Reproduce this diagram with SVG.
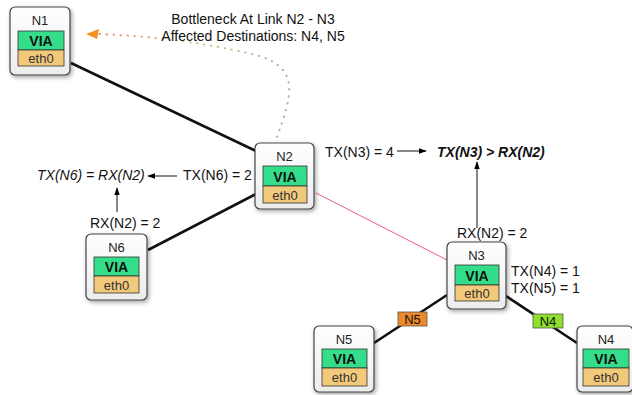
<svg xmlns="http://www.w3.org/2000/svg" width="632" height="395" viewBox="0 0 632 395">
<defs>
<linearGradient id="boxg" x1="0" y1="0" x2="0" y2="1">
<stop offset="0" stop-color="#ffffff"/>
<stop offset="1" stop-color="#ececec"/>
</linearGradient>
<linearGradient id="dotg" x1="0" y1="0" x2="1" y2="0">
<stop offset="0" stop-color="#f08a80"/>
<stop offset="0.45" stop-color="#d0c888"/>
<stop offset="1" stop-color="#a8b4b0"/>
</linearGradient>
<filter id="sh" x="-20%" y="-20%" width="150%" height="150%">
<feDropShadow dx="1.5" dy="2" stdDeviation="2" flood-color="#000" flood-opacity="0.35"/>
</filter>
<marker id="ah" viewBox="0 0 10 10" refX="9" refY="5" markerWidth="8" markerHeight="8" markerUnits="userSpaceOnUse" orient="auto">
<path d="M0,1.5 L10,5 L0,8.5 Z" fill="#000"/>
</marker>
</defs>
<style>
.box{fill:url(#boxg);stroke:#444;stroke-width:1.2;filter:url(#sh)}
.via{fill:#33dd8a;stroke:#333;stroke-width:0.8}
.eth{fill:#f2c97a;stroke:#333;stroke-width:0.8}
.t{font-family:"Liberation Sans",Arial,sans-serif;fill:#111}
.nm{font-size:13px;text-anchor:middle;fill:#222}
.vt{font-size:14px;font-weight:bold;text-anchor:middle}
.et{font-size:13px;text-anchor:middle;fill:#333}
.lb{font-size:14px}
.it{font-style:italic}
.link{stroke:#111;stroke-width:2.6;fill:none}
.ar{stroke:#111;stroke-width:1;fill:none;marker-end:url(#ah)}
</style>
<g id="connectors">
<path class="link" d="M71,63 L256,151"/>
<path class="link" d="M148,250 L256,194"/>
<path d="M316,193 L447,260" stroke="#e8506a" stroke-width="0.9" fill="none"/>
<path class="link" d="M447,295 L374,343"/>
<path class="link" d="M506,296 L577,343"/>
<path d="M277,137 C292,95 302,66 252,54 C200,42 150,36 98,34" stroke="url(#dotg)" stroke-width="2" stroke-linecap="round" stroke-dasharray="0.5,6.5" fill="none"/>
<path d="M86,34 L99,29 L97,39 Z" fill="#f39020"/>
<g id="lblN5">
<rect x="398" y="312" width="29" height="14" fill="#ee8a2a" stroke="#555" stroke-width="0.8"/>
<text class="t" x="412.5" y="324" font-size="13" text-anchor="middle" fill="#7a2a00">N5</text>
</g>
<g id="lblN4">
<rect x="533" y="314" width="30" height="14" fill="#8ee02a" stroke="#555" stroke-width="0.8"/>
<text class="t" x="548" y="326" font-size="13" text-anchor="middle" fill="#224400">N4</text>
</g>
</g>
<g id="N1">
<rect class="box" x="10" y="7" width="60" height="68" rx="5"/>
<text class="t nm" x="40" y="25">N1</text>
<rect class="via" x="18" y="31" width="46" height="19"/>
<text class="t vt" x="41" y="45.5">VIA</text>
<rect class="eth" x="18" y="50" width="46" height="16"/>
<text class="t et" x="41" y="63">eth0</text>
</g>
<g id="N2">
<rect class="box" x="255" y="143" width="59" height="66" rx="5"/>
<text class="t nm" x="284.5" y="161">N2</text>
<rect class="via" x="263" y="166" width="44" height="20"/>
<text class="t vt" x="285" y="181.5">VIA</text>
<rect class="eth" x="263" y="186" width="44" height="17"/>
<text class="t et" x="285" y="199.5">eth0</text>
</g>
<g id="N3">
<rect class="box" x="447" y="242" width="59" height="67" rx="5"/>
<text class="t nm" x="476.5" y="260">N3</text>
<rect class="via" x="455" y="265" width="44" height="20"/>
<text class="t vt" x="477" y="280.5">VIA</text>
<rect class="eth" x="455" y="285" width="44" height="16"/>
<text class="t et" x="477" y="298">eth0</text>
</g>
<g id="N5">
<rect class="box" x="314" y="326" width="60" height="66" rx="5"/>
<text class="t nm" x="344" y="344">N5</text>
<rect class="via" x="322" y="349" width="45" height="19"/>
<text class="t vt" x="344.5" y="364">VIA</text>
<rect class="eth" x="322" y="368" width="45" height="18"/>
<text class="t et" x="344.5" y="382">eth0</text>
</g>
<g id="N4">
<rect class="box" x="577" y="326" width="56" height="66" rx="5"/>
<text class="t nm" x="606" y="344">N4</text>
<rect class="via" x="583" y="349" width="46" height="19"/>
<text class="t vt" x="606" y="364">VIA</text>
<rect class="eth" x="583" y="368" width="46" height="18"/>
<text class="t et" x="606" y="382">eth0</text>
</g>
<g id="N6">
<rect class="box" x="86" y="234" width="61" height="66" rx="5"/>
<text class="t nm" x="116.5" y="252">N6</text>
<rect class="via" x="94" y="257" width="45" height="19"/>
<text class="t vt" x="116.5" y="272">VIA</text>
<rect class="eth" x="94" y="276" width="45" height="17"/>
<text class="t et" x="116.5" y="289.5">eth0</text>
</g>
<g id="annotations">
<text class="t lb" x="253" y="24" text-anchor="middle">Bottleneck At Link N2 - N3</text>
<text class="t lb" x="253" y="41" text-anchor="middle">Affected Destinations: N4, N5</text>
<text class="t lb" x="325" y="157">TX(N3) = 4</text>
<path class="ar" d="M397,151 L426,151"/>
<text class="t lb it" x="437" y="157" font-weight="bold">TX(N3) &gt; RX(N2)</text>
<path class="ar" d="M477,228 L477,162"/>
<text class="t lb" x="457" y="238">RX(N2) = 2</text>
<text class="t lb" x="511" y="276">TX(N4) = 1</text>
<text class="t lb" x="511" y="293">TX(N5) = 1</text>
<text class="t lb it" x="37" y="180">TX(N6) = RX(N2)</text>
<path class="ar" d="M177,176 L148,176"/>
<text class="t lb" x="183" y="180">TX(N6) = 2</text>
<path class="ar" d="M117,212 L117,188"/>
<text class="t lb" x="90" y="228">RX(N2) = 2</text>
</g>
</svg>
